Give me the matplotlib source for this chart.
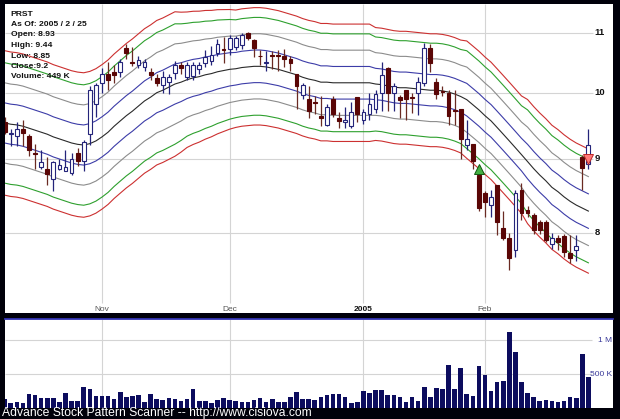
import matplotlib
matplotlib.use("Agg")
import matplotlib.pyplot as plt
import numpy as np

# ---------------- data (trading days Oct 8 2004 .. Feb 25 2005) ----------------
opens = [9.55, 9.36, 9.34, 9.44, 9.34, 9.09, 8.88, 8.86, 8.71, 8.86,
         8.83, 8.80, 9.08, 8.97, 9.37, 9.82, 10.16, 10.30, 10.33, 10.33,
         10.74, 10.50, 10.46, 10.42, 10.33, 10.23, 10.12, 10.17, 10.32, 10.46,
         10.26, 10.27, 10.38, 10.48, 10.52, 10.66, 10.72, 10.72, 10.76, 10.79,
         11.00, 10.88, 10.61, 10.49, 10.62, 10.62, 10.60, 10.55, 10.31, 9.96,
         9.90, 9.86, 9.63, 9.50, 9.90, 9.60, 9.55, 9.48, 9.93, 9.57,
         9.66, 9.74, 10.00, 10.40, 10.00, 9.93, 10.05, 9.93, 10.00, 10.15,
         10.74, 10.18, 10.03, 10.00, 9.73, 9.74, 9.20, 9.22, 8.77, 8.52,
         8.36, 8.63, 8.06, 7.93, 7.78, 8.56, 8.30, 8.23, 8.14, 8.14,
         7.86, 7.93, 7.96, 7.74, 7.78, 9.02, 8.93]
highs = [9.62, 9.44, 9.54, 9.57, 9.37, 9.22, 9.13, 9.02, 8.97, 9.00,
         9.12, 9.08, 9.15, 9.27, 10.10, 10.15, 10.40, 10.50, 10.45, 10.55,
         10.80, 10.75, 10.60, 10.55, 10.40, 10.30, 10.36, 10.30, 10.52, 10.50,
         10.50, 10.50, 10.50, 10.70, 10.78, 10.90, 10.93, 10.96, 10.95, 11.00,
         11.02, 10.90, 10.70, 10.68, 10.68, 10.70, 10.72, 10.60, 10.31, 10.15,
         10.10, 9.95, 9.95, 9.82, 9.95, 9.70, 9.78, 9.85, 9.93, 9.75,
         10.00, 10.05, 10.50, 10.42, 10.15, 9.96, 10.05, 10.00, 10.25, 10.82,
         10.80, 10.24, 10.10, 10.04, 10.05, 9.74, 9.57, 9.22, 8.80, 8.55,
         8.57, 8.63, 8.28, 8.00, 8.56, 8.66, 8.35, 8.25, 8.16, 8.16,
         8.00, 7.97, 7.98, 7.97, 7.97, 9.05, 9.44]
lows = [9.36, 9.18, 9.19, 9.19, 9.04, 8.85, 8.85, 8.63, 8.55, 8.84,
        8.82, 8.77, 8.90, 8.83, 9.20, 9.62, 10.00, 10.05, 10.15, 10.25,
        10.55, 10.43, 10.40, 10.35, 10.20, 10.10, 10.00, 9.98, 10.22, 10.30,
        10.20, 10.20, 10.30, 10.42, 10.45, 10.60, 10.48, 10.62, 10.70, 10.72,
        10.88, 10.58, 10.45, 10.36, 10.38, 10.35, 10.42, 10.35, 9.75, 9.90,
        9.60, 9.66, 9.49, 9.48, 9.62, 9.46, 9.45, 9.46, 9.55, 9.52,
        9.58, 9.68, 9.72, 9.72, 9.72, 9.60, 9.58, 9.68, 9.65, 10.10,
        10.33, 9.90, 9.95, 9.50, 9.50, 9.00, 9.12, 8.85, 8.28, 8.20,
        8.20, 7.97, 7.91, 7.54, 7.70, 8.16, 8.20, 7.98, 7.98, 7.88,
        7.80, 7.78, 7.70, 7.62, 7.65, 8.56, 8.85]
closes = [9.40, 9.38, 9.44, 9.38, 9.12, 9.07, 8.95, 8.78, 8.95, 8.91,
          8.88, 9.00, 8.97, 9.24, 10.05, 10.12, 10.30, 10.20, 10.29, 10.50,
          10.66, 10.48, 10.54, 10.50, 10.28, 10.15, 10.25, 10.25, 10.46, 10.41,
          10.46, 10.46, 10.46, 10.58, 10.62, 10.80, 10.70, 10.91, 10.91, 10.96,
          10.91, 10.74, 10.60, 10.51, 10.61, 10.60, 10.55, 10.48, 10.11, 10.12,
          9.72, 9.84, 9.61, 9.77, 9.66, 9.56, 9.57, 9.70, 9.66, 9.70,
          9.82, 9.98, 10.28, 10.00, 10.10, 9.88, 9.90, 9.92, 10.17, 10.74,
          10.48, 9.98, 10.01, 9.64, 9.71, 9.29, 9.29, 8.97, 8.32, 8.40,
          8.47, 8.14, 7.93, 7.68, 8.52, 8.26, 8.26, 8.03, 8.03, 7.91,
          7.93, 7.88, 7.76, 7.68, 7.83, 8.87, 9.20]
volumes = [127000, 78000, 88000, 78000, 200000, 186000, 152000, 152000, 142000, 93000,
           216000, 103000, 108000, 304000, 275000, 177000, 177000, 177000, 127000, 240000,
           157000, 177000, 186000, 88000, 200000, 132000, 118000, 142000, 137000, 108000,
           127000, 280000, 108000, 98000, 78000, 118000, 142000, 118000, 98000, 93000,
           93000, 118000, 142000, 93000, 127000, 88000, 93000, 167000, 240000, 127000,
           137000, 118000, 157000, 191000, 200000, 200000, 167000, 78000, 93000, 255000,
           216000, 265000, 265000, 191000, 191000, 157000, 93000, 157000, 108000, 309000,
           167000, 289000, 275000, 630000, 275000, 583000, 200000, 171000, 618000, 485000,
           255000, 387000, 397000, 1113000, 828000, 377000, 216000, 157000, 108000, 123000,
           108000, 93000, 103000, 157000, 147000, 800000, 449000]
band_mid = [9.53, 9.51, 9.50, 9.48, 9.45, 9.42, 9.39, 9.36, 9.32, 9.29,
            9.26, 9.23, 9.21, 9.20, 9.22, 9.26, 9.32, 9.39, 9.48, 9.56,
            9.64, 9.71, 9.79, 9.87, 9.93, 10.00, 10.04, 10.09, 10.14, 10.17,
            10.21, 10.24, 10.26, 10.29, 10.31, 10.34, 10.36, 10.38, 10.39, 10.41,
            10.42, 10.43, 10.43, 10.42, 10.40, 10.38, 10.35, 10.32, 10.29, 10.25,
            10.22, 10.20, 10.17, 10.17, 10.16, 10.16, 10.16, 10.16, 10.16, 10.16,
            10.16, 10.14, 10.13, 10.11, 10.09, 10.08, 10.08, 10.07, 10.06, 10.05,
            10.04, 10.04, 10.03, 10.01, 9.98, 9.94, 9.89, 9.81, 9.73, 9.64,
            9.56, 9.46, 9.36, 9.26, 9.16, 9.06, 8.96, 8.86, 8.77, 8.69,
            8.60, 8.54, 8.47, 8.41, 8.36, 8.32, 8.28]
band_width_pct = [3.2, 3.2, 3.2, 3.2, 3.2, 3.2, 3.2, 3.2, 3.2, 3.2,
                  3.2, 3.2, 3.2, 3.2, 3.2, 3.2, 3.2, 3.2, 3.2, 3.2,
                  3.2, 3.2, 3.2, 3.2, 3.2, 3.2, 3.2, 3.2, 3.2, 3.1,
                  3.0, 2.95, 2.9, 2.85, 2.8, 2.75, 2.7, 2.65, 2.6, 2.6,
                  2.6, 2.6, 2.6, 2.6, 2.6, 2.6, 2.6, 2.6, 2.6, 2.6,
                  2.6, 2.6, 2.6, 2.6, 2.6, 2.6, 2.6, 2.6, 2.6, 2.6,
                  2.6, 2.5, 2.5, 2.5, 2.5, 2.5, 2.5, 2.5, 2.5, 2.5,
                  2.5, 2.5, 2.5, 2.5, 2.5, 2.5, 2.6, 2.6, 2.6, 2.6,
                  2.6, 2.6, 2.6, 2.6, 2.6, 2.6, 2.75, 2.75, 2.75, 2.75,
                  2.75, 2.75, 2.75, 2.75, 2.75, 2.75, 2.75]
band_mult = [1, 2, 3, 3.6]
band_colors = ["#3c3ca8", "#8c8c8c", "#2ea02e", "#cc3030"]

month_ticks = [16, 37, 59, 79]
month_labels = ["Nov", "Dec", "2005", "Feb"]
price_ticks = [8, 9, 10, 11]
vol_ticks = [500000, 1000000]
vol_tick_labels = ["500 K", "1 M"]
buy_signal = (78, 8.86)
sell_signal = (96, 8.99)
info_lines = ["PRST", "As Of: 2005 / 2 / 25", "Open: 8.93", "High: 9.44",
              "Low: 8.85", "Close:9.2", "Volume: 449 K"]
footer = "Advance Stock Pattern Scanner -- http://www.cisiova.com"

# ---------------- layout ----------------
W, H = 620, 419
BG = "#00000a"
fig = plt.figure(figsize=(W / 100, H / 100), dpi=100, facecolor=BG)

def fx(px):
    return px / W

def fy(py):
    return 1 - py / H

ax = fig.add_axes([fx(5), fy(313), fx(613) - fx(5), fy(4) - fy(313)])
ax2 = fig.add_axes([fx(5), fy(408), fx(613) - fx(5), fy(319) - fy(408)])

idx = np.arange(len(opens))
X_LEFT, X_RIGHT = 0.05, 100.05
GRID_END = 96.76
GRID = "#d4d4d4"

# ---------------- price panel ----------------
ax.set_yscale("log")
ax.set_xlim(X_LEFT, X_RIGHT)
ax.set_ylim(7.038, 11.52)
ax.set_facecolor("white")
for s in ax.spines.values():
    s.set_visible(False)
ax.set_xticks([])
ax.set_yticks([])
ax.yaxis.set_minor_locator(matplotlib.ticker.NullLocator())

ax.hlines(price_ticks, X_LEFT, GRID_END, color=GRID, lw=0.8, zorder=1)
ax.vlines(month_ticks, 7.15, 11.52, color=GRID, lw=0.8, zorder=1)

mid = np.array(band_mid)
w = np.array(band_width_pct) / 100.0
for k, col in zip(band_mult, band_colors):
    ax.plot(idx, mid * np.exp(k * w), color=col, lw=0.8, zorder=2)
    ax.plot(idx, mid * np.exp(-k * w), color=col, lw=0.8, zorder=2)
ax.plot(idx, mid, color="#2a2a2a", lw=0.8, zorder=2)

o = np.array(opens); c = np.array(closes); h = np.array(highs); l = np.array(lows)
up = c >= o
UP_EDGE = "#24247a"
DOWN = "#5a0606"
ax.vlines(idx[up], l[up], h[up], color=UP_EDGE, lw=0.9, zorder=3)
ax.vlines(idx[~up], l[~up], h[~up], color="#6a2a22", lw=0.9, zorder=3)
bw = 0.62
bot = np.minimum(o, c)
ht = np.maximum(np.abs(c - o), 0.008)
ax.bar(idx[up], ht[up], bottom=bot[up], width=bw, facecolor="white",
       edgecolor=UP_EDGE, lw=0.8, zorder=4)
ax.bar(idx[~up], ht[~up], bottom=bot[~up], width=bw, facecolor=DOWN,
       edgecolor=DOWN, lw=0.8, zorder=4)

ax.plot([buy_signal[0]], [buy_signal[1]], marker="^", ms=6.5, color="#44b044",
        mec="#105a10", mew=0.7, zorder=5)
ax.plot([sell_signal[0]], [sell_signal[1]], marker="v", ms=6.5, color="#ff7a7a",
        mec="#c02828", mew=0.7, zorder=5)

for p in price_ticks:
    ax.text(97.0, p, str(p), ha="left", va="center", fontsize=6.8,
            fontweight="bold", family="Liberation Sans", color="#111111")

for t, lab in zip(month_ticks, month_labels):
    bold = lab.isdigit()
    ax.text(t, 7.083, lab, ha="center", va="center", fontsize=6,
            fontweight="bold" if bold else "normal", family="Liberation Sans",
            color="#111111" if bold else "#555555")

for n, line in enumerate(info_lines):
    fig.text(fx(10.5), fy(14 + n * 10.5), line, ha="left", va="center",
             fontsize=6.1, fontweight="bold", family="Liberation Sans",
             color="#111111")

# ---------------- volume panel ----------------
ax2.set_xlim(X_LEFT, X_RIGHT)
ax2.set_ylim(0, 1.309e6)
ax2.set_facecolor("white")
for name, s in ax2.spines.items():
    s.set_visible(name == "top")
ax2.spines["top"].set_color("#3434b4")
ax2.spines["top"].set_linewidth(1.3)
ax2.set_xticks([])
ax2.set_yticks([])
ax2.hlines(vol_ticks, X_LEFT, 96.6, color=GRID, lw=0.8, zorder=1)
ax2.vlines(month_ticks, 0, 1.309e6, color=GRID, lw=0.8, zorder=1)
ax2.bar(idx, volumes, width=0.76, color="#0c0c5e", zorder=3)
for v, lab in zip(vol_ticks, vol_tick_labels):
    ax2.text(99.9, v, lab, ha="right", va="center", fontsize=6,
             family="Liberation Sans", color="#3a3a9a")

fig.text(fx(2), fy(412.5), footer, ha="left", va="center", fontsize=8.7,
         family="Liberation Sans", color="white")

fig.savefig("out.png", dpi=100, facecolor=BG)
